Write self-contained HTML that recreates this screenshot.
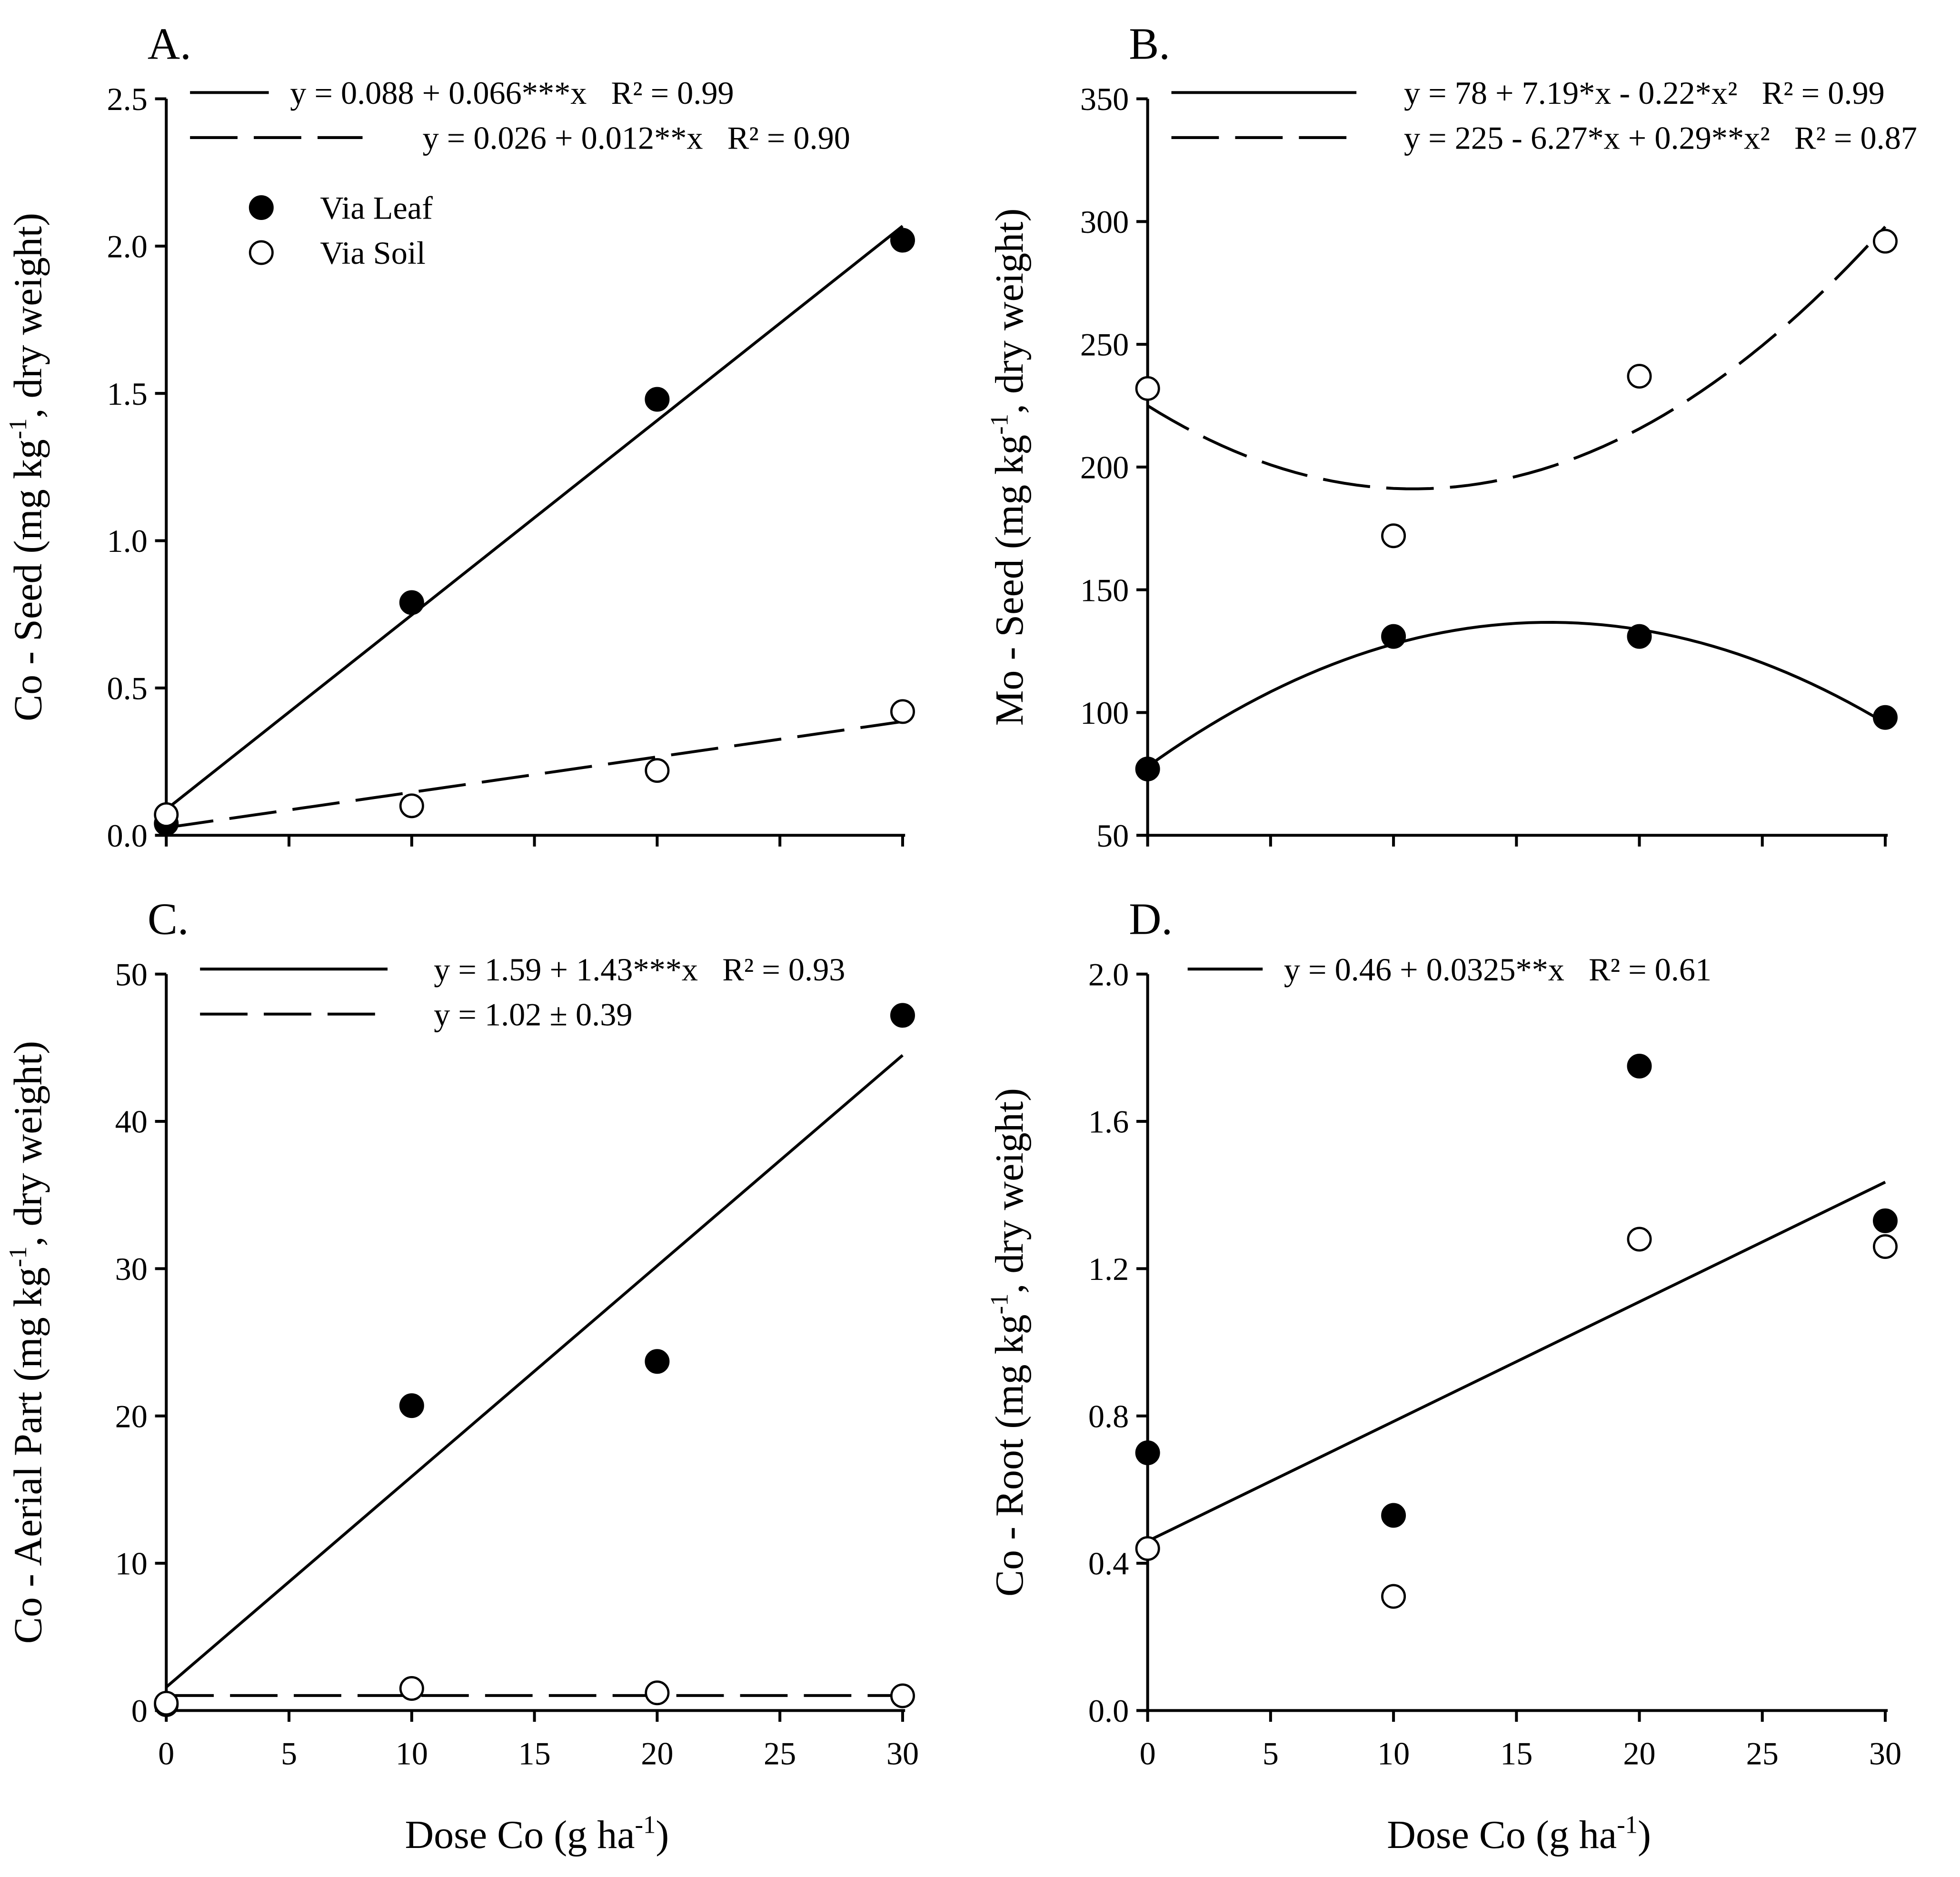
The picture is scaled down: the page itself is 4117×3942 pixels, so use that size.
<!DOCTYPE html>
<html><head><meta charset="utf-8"><style>
html,body{margin:0;padding:0;background:#fff}
svg{display:block}
text{font-family:"Liberation Serif",serif;fill:#000;white-space:pre}
</style></head><body>
<svg id="fig" xmlns="http://www.w3.org/2000/svg" width="4117" height="3942" viewBox="0 0 1567.8 1501.1"></svg>
<script>
const doses=[0,10,20,30];
const aLeaf=[0.04,0.79,1.48,2.02];
const aSoil=[0.07,0.10,0.22,0.42];
const bLeaf=[77,131,131,98];
const bSoil=[232,172,237,292];
const cLeaf=[0.4,20.7,23.7,47.2];
const cSoil=[0.5,1.5,1.2,1.0];
const dLeaf=[0.70,0.53,1.75,1.33];
const dSoil=[0.44,0.31,1.28,1.26];
const xTicks=[0,5,10,15,20,25,30];
const aTicks=[0,0.5,1.0,1.5,2.0,2.5];
const bTicks=[50,100,150,200,250,300,350];
const cTicks=[0,10,20,30,40,50];
const dTicks=[0,0.4,0.8,1.2,1.6,2.0];
const aFitLeaf=[0.088,0.066,0];
const aFitSoil=[0.026,0.012,0];
const bFitLeaf=[78,7.19,-0.22];
const bFitSoil=[225,-6.27,0.29];
const cFitLeaf=[1.59,1.43,0];
const cFitSoil=[1.02,0,0];
const dFitLeaf=[0.46,0.0325,0];

const NS='http://www.w3.org/2000/svg';
const svg=document.getElementById('fig');
function el(tag,attrs,parent,txt){const e=document.createElementNS(NS,tag);for(const k in attrs)e.setAttribute(k,attrs[k]);if(txt!==undefined)e.textContent=txt;(parent||svg).appendChild(e);return e;}
const LW=2.3;
const DASH='38 13';

function panel(o){
  const g=el('g',{});
  
  
  const sx=v=>o.x0+(v-0)/(30-0)*(o.x1-o.x0);
  const sy=v=>o.yb+(v-o.ymin)/(o.ymax-o.ymin)*(o.yt-o.yb);
  const ya=el('line',{x1:o.x0,y1:o.yb,x2:o.x0,y2:o.yt,stroke:'#000','stroke-width':LW},g);
  
  const xa=el('line',{x1:o.x0-9,y1:o.yb,x2:o.x1+2,y2:o.yb,stroke:'#000','stroke-width':LW},g);
  
  xTicks.forEach(t=>{
    const tk=el('line',{x1:sx(t),y1:o.yb,x2:sx(t),y2:o.yb+9,stroke:'#000','stroke-width':LW},g);
    
    if(o.xlabels){const tl=el('text',{x:sx(t),y:o.yb+43,'text-anchor':'middle','font-size':26},g,String(t));
      }
  });
  o.yt_ticks.forEach(t=>{
    const tk=el('line',{x1:o.x0-9,y1:sy(t),x2:o.x0,y2:sy(t),stroke:'#000','stroke-width':LW},g);
    
    const tl=el('text',{x:o.x0-15,y:sy(t)+9,'text-anchor':'end','font-size':26},g,o.fmt(t));
    
  });
  const pl=el('text',{x:o.x0-15,y:o.yt-32,'font-size':36},g,o.letter);
  
  const cy=(o.yb+o.yt)/2, cx=o.x0-100;
  const yt=el('text',{x:cx,y:cy,'text-anchor':'middle','font-size':32,transform:`rotate(-90 ${cx} ${cy})`},g);
  
  yt.appendChild(document.createTextNode(o.ytitle+' (mg kg'));
  el('tspan',{'font-size':20,dy:-12},yt,'-1');
  el('tspan',{dy:12},yt,', dry weight)');
  if(o.xtitle){
    const xt=el('text',{x:(o.x0+o.x1)/2+2,y:o.yb+110,'text-anchor':'middle','font-size':32},g);
    
    xt.appendChild(document.createTextNode('Dose Co (g ha'));
    el('tspan',{'font-size':20,dy:-12},xt,'-1');
    el('tspan',{dy:12},xt,')');
  }
  o.fits.forEach(f=>{
    let d='';
    for(let i=0;i<=60;i++){const x=i*0.5;const y=f.c[0]+f.c[1]*x+f.c[2]*x*x;d+=(i?'L':'M')+sx(x).toFixed(2)+' '+sy(y).toFixed(2);}
    const p=el('path',{d:d,fill:'none',stroke:'#000','stroke-width':LW},g);
    if(f.dash)p.setAttribute('stroke-dasharray',DASH);
    
  });
  o.series.forEach(s=>{
    s.v.forEach((v,i)=>{
      const c=el('circle',{cx:sx(doses[i]),cy:sy(v),r:9,fill:s.open?'#fff':'#000',stroke:'#000','stroke-width':1.8},g);
      
    });
  });
  o.legend.forEach(L=>{
    const ln=el('line',{x1:L.x1,y1:L.y,x2:L.x2,y2:L.y,stroke:'#000','stroke-width':LW},g);
    if(L.dash)ln.setAttribute('stroke-dasharray',DASH);
    
    const t=el('text',{x:L.tx,y:L.y+9,'font-size':26},g,L.text);
    
  });
}

const f1=t=>t.toFixed(1);
const f0=t=>String(t);
panel({name:'panel-a',letter:'A.',x0:133,x1:722,yb:668,yt:79,ymin:0,ymax:2.5,yt_ticks:aTicks,fmt:f1,xlabels:false,
  ytitle:'Co - Seed',
  fits:[{c:aFitLeaf,name:'fit-leaf'},{c:aFitSoil,dash:true,name:'fit-soil'}],
  series:[{v:aLeaf,name:'leaf'},{v:aSoil,open:true,name:'soil'}],
  legend:[{x1:152,x2:215,y:74,tx:232,text:'y = 0.088 + 0.066***x   R² = 0.99'},
          {x1:152,x2:290,y:110,dash:true,tx:338,text:'y = 0.026 + 0.012**x   R² = 0.90'}]});
panel({name:'panel-b',letter:'B.',x0:918,x1:1508,yb:668,yt:79,ymin:50,ymax:350,yt_ticks:bTicks,fmt:f0,xlabels:false,
  ytitle:'Mo - Seed',
  fits:[{c:bFitLeaf,name:'fit-leaf'},{c:bFitSoil,dash:true,name:'fit-soil'}],
  series:[{v:bLeaf,name:'leaf'},{v:bSoil,open:true,name:'soil'}],
  legend:[{x1:937,x2:1085,y:74,tx:1123,text:'y = 78 + 7.19*x - 0.22*x²   R² = 0.99'},
          {x1:937,x2:1085,y:110,dash:true,tx:1123,text:'y = 225 - 6.27*x + 0.29**x²   R² = 0.87'}]});
panel({name:'panel-c',letter:'C.',x0:133,x1:722,yb:1368,yt:779,ymin:0,ymax:50,yt_ticks:cTicks,fmt:f0,xlabels:true,xtitle:true,
  ytitle:'Co - Aerial Part',
  fits:[{c:cFitLeaf,name:'fit-leaf'},{c:cFitSoil,dash:true,name:'fit-soil'}],
  series:[{v:cLeaf,name:'leaf'},{v:cSoil,open:true,name:'soil'}],
  legend:[{x1:160,x2:310,y:775,tx:347,text:'y = 1.59 + 1.43***x   R² = 0.93'},
          {x1:160,x2:310,y:811,dash:true,tx:347,text:'y = 1.02 ± 0.39'}]});
panel({name:'panel-d',letter:'D.',x0:918,x1:1508,yb:1368,yt:779,ymin:0,ymax:2.0,yt_ticks:dTicks,fmt:f1,xlabels:true,xtitle:true,
  ytitle:'Co - Root',
  fits:[{c:dFitLeaf,name:'fit-all'}],
  series:[{v:dLeaf,name:'leaf'},{v:dSoil,open:true,name:'soil'}],
  legend:[{x1:950,x2:1010,y:775,tx:1027,text:'y = 0.46 + 0.0325**x   R² = 0.61'}]});

const lg=el('g',{});


const m1=el('circle',{cx:209,cy:166,r:9,fill:'#000',stroke:'#000','stroke-width':1.8},lg);


const t1=el('text',{x:256,y:175,'font-size':26},lg,'Via Leaf');


const m2=el('circle',{cx:209,cy:202,r:9,fill:'#fff',stroke:'#000','stroke-width':1.8},lg);


const t2=el('text',{x:256,y:211,'font-size':26},lg,'Via Soil');


</script>
</body></html>
